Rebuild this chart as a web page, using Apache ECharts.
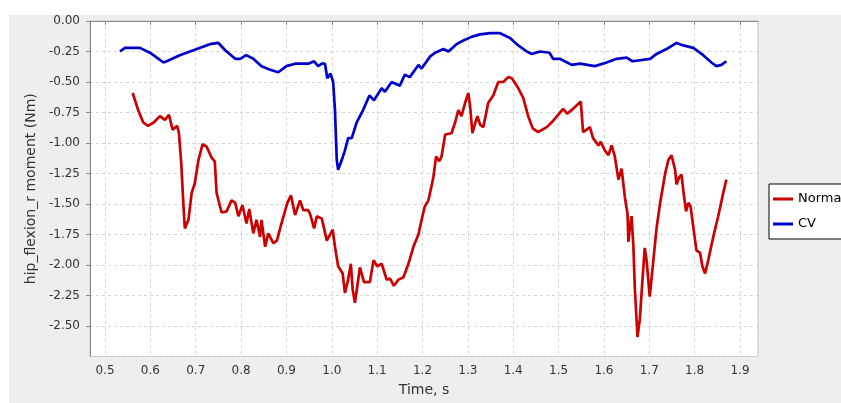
<!DOCTYPE html>
<html>
<head>
<meta charset="utf-8">
<script src="https://cdn.jsdelivr.net/npm/echarts@6/dist/echarts.min.js"></script>
<style>
html,body{margin:0;padding:0;background:#fff;}
#chart{width:841px;height:403px;}
</style>
</head>
<body>
<div id="chart"></div>
<script>
// Series names
const seriesNames = ['Normal', 'CV'];

// Normal (red) series: time (s) and hip flexion moment (Nm)
const normalTime = [0.561,0.573,0.584,0.595,0.608,0.621,0.632,0.641,0.649,0.659,0.663,0.668,0.673,0.676,0.684,0.691,0.698,0.706,0.715,0.724,0.735,0.742,0.746,0.757,0.768,0.779,0.787,0.794,0.803,0.812,0.818,0.827,0.834,0.842,0.845,0.853,0.860,0.871,0.879,0.889,0.902,0.910,0.919,0.930,0.937,0.948,0.952,0.961,0.967,0.978,0.989,1.002,1.007,1.014,1.024,1.029,1.036,1.042,1.046,1.051,1.056,1.062,1.071,1.084,1.092,1.100,1.110,1.121,1.128,1.137,1.147,1.158,1.169,1.180,1.191,1.198,1.205,1.213,1.220,1.224,1.230,1.237,1.242,1.250,1.264,1.272,1.279,1.286,1.294,1.301,1.305,1.310,1.316,1.321,1.327,1.334,1.345,1.356,1.367,1.378,1.389,1.397,1.411,1.422,1.433,1.443,1.455,1.474,1.485,1.499,1.510,1.519,1.532,1.549,1.554,1.562,1.569,1.576,1.588,1.593,1.602,1.610,1.617,1.624,1.632,1.639,1.646,1.652,1.654,1.657,1.661,1.665,1.668,1.672,1.674,1.679,1.685,1.690,1.694,1.701,1.709,1.716,1.724,1.735,1.742,1.749,1.757,1.760,1.766,1.771,1.775,1.781,1.786,1.791,1.797,1.804,1.812,1.817,1.823,1.830,1.841,1.852,1.863,1.870];
const normalValue = [-0.59,-0.73,-0.83,-0.86,-0.83,-0.78,-0.81,-0.77,-0.89,-0.86,-0.92,-1.16,-1.52,-1.70,-1.63,-1.41,-1.33,-1.14,-1.01,-1.03,-1.12,-1.15,-1.41,-1.57,-1.56,-1.47,-1.49,-1.60,-1.51,-1.66,-1.54,-1.74,-1.63,-1.77,-1.63,-1.85,-1.74,-1.82,-1.80,-1.66,-1.49,-1.43,-1.59,-1.47,-1.55,-1.55,-1.58,-1.70,-1.60,-1.62,-1.80,-1.71,-1.85,-2.01,-2.07,-2.23,-2.12,-1.99,-2.20,-2.31,-2.18,-2.02,-2.14,-2.14,-1.96,-2.01,-1.99,-2.12,-2.11,-2.17,-2.12,-2.10,-1.99,-1.85,-1.75,-1.63,-1.52,-1.47,-1.35,-1.28,-1.11,-1.15,-1.11,-0.93,-0.92,-0.83,-0.73,-0.78,-0.67,-0.59,-0.70,-0.92,-0.84,-0.78,-0.85,-0.87,-0.67,-0.61,-0.50,-0.50,-0.46,-0.47,-0.55,-0.63,-0.78,-0.88,-0.91,-0.87,-0.83,-0.77,-0.72,-0.76,-0.72,-0.66,-0.91,-0.89,-0.87,-0.96,-1.02,-0.99,-1.06,-1.10,-1.02,-1.11,-1.30,-1.21,-1.44,-1.58,-1.81,-1.70,-1.60,-1.85,-2.18,-2.45,-2.59,-2.45,-2.12,-1.86,-1.96,-2.26,-1.96,-1.70,-1.49,-1.25,-1.14,-1.10,-1.22,-1.34,-1.28,-1.26,-1.39,-1.56,-1.49,-1.52,-1.69,-1.88,-1.90,-2.01,-2.07,-1.96,-1.77,-1.60,-1.41,-1.30];

// CV (blue) series
const cvTime = [0.533,0.544,0.577,0.599,0.618,0.629,0.636,0.665,0.695,0.731,0.750,0.765,0.787,0.798,0.811,0.827,0.845,0.864,0.882,0.900,0.919,0.948,0.961,0.970,0.978,0.985,0.990,0.997,1.003,1.007,1.011,1.014,1.022,1.029,1.036,1.044,1.055,1.069,1.083,1.093,1.110,1.117,1.132,1.150,1.161,1.172,1.191,1.198,1.217,1.228,1.246,1.257,1.275,1.290,1.308,1.327,1.349,1.371,1.393,1.411,1.430,1.441,1.459,1.480,1.488,1.503,1.529,1.547,1.580,1.606,1.628,1.650,1.663,1.702,1.716,1.738,1.760,1.775,1.797,1.819,1.837,1.848,1.859,1.870];
const cvValue = [-0.25,-0.22,-0.22,-0.26,-0.31,-0.34,-0.33,-0.28,-0.24,-0.19,-0.18,-0.24,-0.31,-0.31,-0.28,-0.31,-0.37,-0.40,-0.42,-0.37,-0.35,-0.35,-0.33,-0.37,-0.35,-0.35,-0.47,-0.43,-0.50,-0.73,-1.14,-1.22,-1.14,-1.06,-0.96,-0.96,-0.83,-0.73,-0.61,-0.65,-0.55,-0.58,-0.50,-0.53,-0.44,-0.46,-0.36,-0.39,-0.29,-0.26,-0.23,-0.25,-0.19,-0.16,-0.13,-0.11,-0.10,-0.10,-0.14,-0.20,-0.25,-0.27,-0.25,-0.26,-0.31,-0.31,-0.36,-0.35,-0.37,-0.34,-0.31,-0.30,-0.33,-0.31,-0.27,-0.23,-0.18,-0.20,-0.22,-0.28,-0.34,-0.37,-0.36,-0.33];

// Axis titles
const xTitle = 'Time, s';
const yTitle = 'hip_flexion_r moment (Nm)';

function pairs(t, v) { return t.map((x, i) => [x, v[i]]); }

const FONT = 'DejaVu Sans';
const chart = echarts.init(document.getElementById('chart'), null, {renderer: 'canvas'});
chart.setOption({
  animation: false,
  backgroundColor: '#ffffff',
  graphic: [{
    type: 'rect', z: -100, silent: true,
    shape: {x: 9, y: 15, width: 840, height: 400},
    style: {fill: '#eeeeee'}
  }],
  grid: {
    left: 90, right: 83, top: 21, bottom: 46.5,
    show: true, backgroundColor: '#ffffff', borderColor: '#c4c4c4', borderWidth: 1
  },
  legend: {
    data: seriesNames,
    orient: 'vertical',
    left: 769, top: 184,
    backgroundColor: '#ffffff',
    borderColor: '#000000', borderWidth: 1, borderRadius: 0,
    padding: [8, 40, 8, 4],
    itemGap: 11, itemWidth: 20, itemHeight: 3, icon: 'rect',
    textStyle: {fontFamily: FONT, fontSize: 13, color: '#000', lineHeight: 14}
  },
  xAxis: {
    type: 'value',
    min: 0.4669, max: 1.9397,
    minInterval: 0.1, maxInterval: 0.1, splitNumber: 15,
    name: xTitle, nameLocation: 'middle', nameGap: 27,
    nameTextStyle: {fontFamily: FONT, fontSize: 14, color: '#333'},
    axisLine: {show: true, lineStyle: {color: '#888888', width: 1}},
    axisTick: {show: true, length: 4, lineStyle: {color: '#888888'}},
    axisLabel: {fontFamily: FONT, fontSize: 12, color: '#333', margin: 8,
      showMinLabel: false, showMaxLabel: false,
      formatter: v => v.toFixed(1)},
    splitLine: {show: true, lineStyle: {color: '#d6d6d6', type: [3, 3], width: 1}}
  },
  yAxis: {
    type: 'value',
    min: -2.75, max: 0, interval: 0.25,
    name: yTitle, nameLocation: 'middle', nameGap: 48,
    nameTextStyle: {fontFamily: FONT, fontSize: 14, color: '#333'},
    axisLine: {show: true, lineStyle: {color: '#888888', width: 1}},
    axisTick: {show: true, length: 4, lineStyle: {color: '#888888'}},
    axisLabel: {fontFamily: FONT, fontSize: 12, color: '#333', margin: 10,
      showMinLabel: false,
      formatter: v => v.toFixed(2)},
    splitLine: {show: true, lineStyle: {color: '#d6d6d6', type: [3, 3], width: 1}}
  },
  series: [
    {name: seriesNames[0], type: 'line', data: pairs(normalTime, normalValue),
     showSymbol: false, symbol: 'none', color: '#cc0000',
     lineStyle: {color: '#cc0000', width: 2.7}},
    {name: seriesNames[1], type: 'line', data: pairs(cvTime, cvValue),
     showSymbol: false, symbol: 'none', color: '#0000cc',
     lineStyle: {color: '#0000cc', width: 2.7}}
  ]
});
</script>
</body>
</html>
